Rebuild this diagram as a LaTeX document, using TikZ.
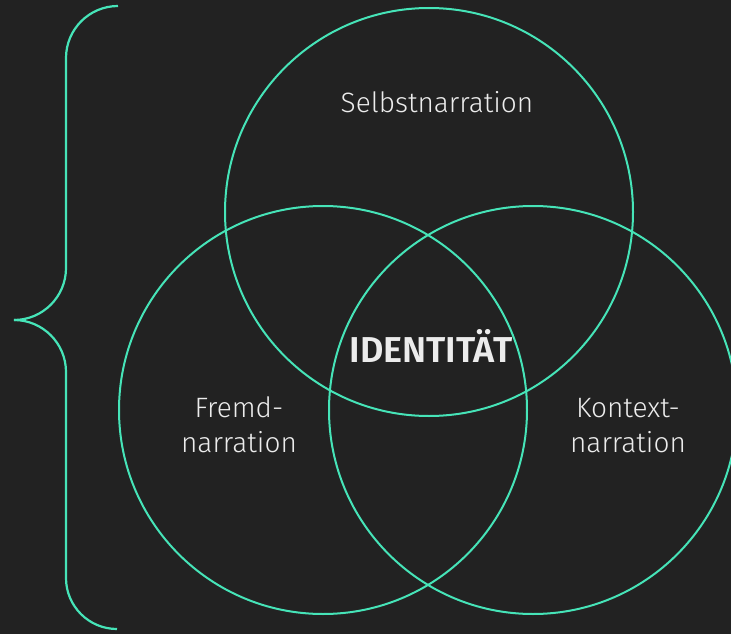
\documentclass[tikz,border=0pt]{standalone}
\usepackage{fontspec}
\setmainfont{Fira Sans Light}[BoldFont={Fira Sans SemiBold}]
\begin{document}
\definecolor{bg}{RGB}{34,34,34}
\definecolor{mint}{RGB}{70,228,184}
\definecolor{txt}{RGB}{236,236,236}
\begin{tikzpicture}[x=1pt,y=-1pt,
  ring/.style={draw=mint,line width=2pt},
  brace/.style={draw=mint,line width=2.2pt},
  label/.style={text=txt,font=\fontsize{28}{35}\selectfont,anchor=base,inner sep=0pt,align=center},
  core/.style={text=txt,font=\fontsize{36}{40}\selectfont\bfseries,anchor=base,inner sep=0pt}]
  % canvas
  \fill[bg] (0,0) rectangle (731,634);
  \useasboundingbox (0,0) rectangle (731,634);
  \clip (0,0) rectangle (731,634);

  % circle centres
  \coordinate (top) at (429,212);
  \coordinate (left) at (323,410);
  \coordinate (right) at (533,410);

  % the three overlapping narrations
  \draw[ring] (top) circle (204);
  \draw[ring] (left) circle (204);
  \draw[ring] (right) circle (204);

  % curly brace on the left (y axis points down, so angles run clockwise)
  \coordinate (bt) at (118,6);
  \coordinate (bb) at (118,629);
  \coordinate (tip) at (14,320);
  \draw[brace] (bt) arc[start angle=-90,end angle=-180,radius=52]
    -- (66,268) arc[start angle=0,end angle=90,radius=52]
    -- (tip);
  \draw[brace] (tip) arc[start angle=-90,end angle=0,radius=52]
    -- (66,578) arc[start angle=180,end angle=90,radius=51];

  % labels
  \node[label] (selbst) at (437,112) {Selbstnarration};
  \node[label] (fremd) at (239,452) {Fremd-\\narration};
  \node[label] (kontext) at (628,452) {Kontext-\\narration};
  \node[core] (ident) at (431,362) {IDENTITÄT};
\end{tikzpicture}
\end{document}
